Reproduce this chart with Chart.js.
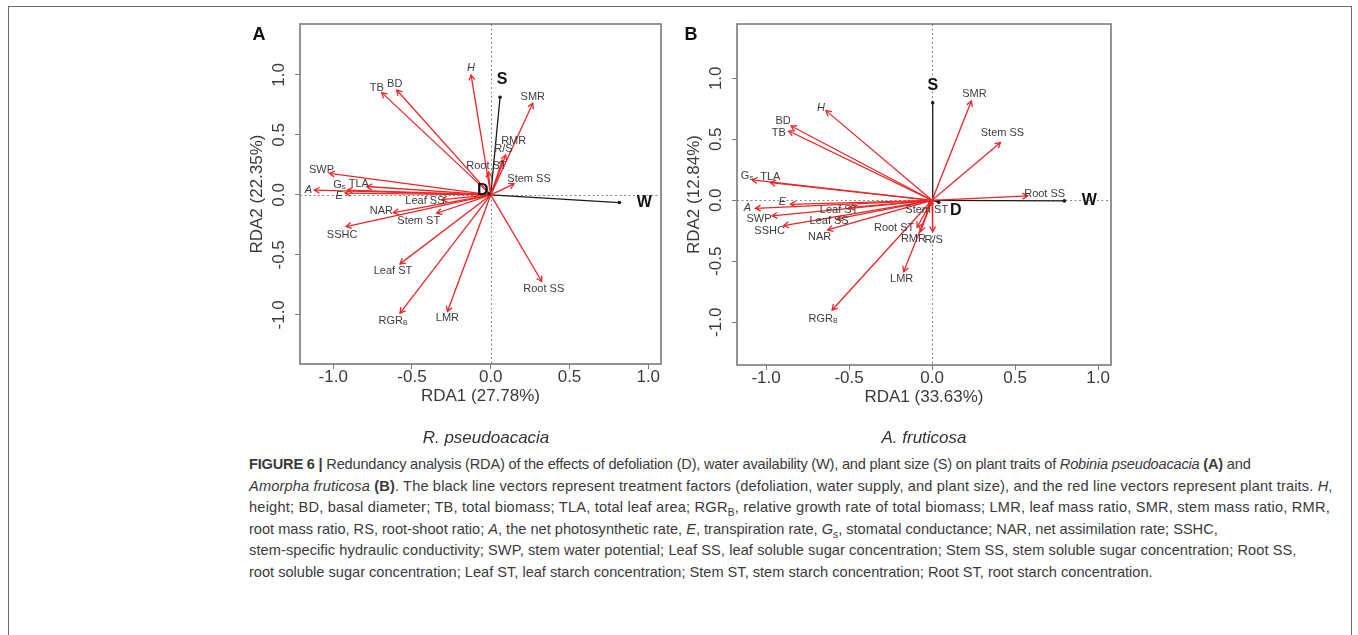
<!DOCTYPE html>
<html><head><meta charset="utf-8">
<script src="https://cdn.jsdelivr.net/npm/chart.js@4.4.1/dist/chart.umd.min.js"></script>
<style>
html,body{margin:0;padding:0;background:#fff;width:1358px;height:635px;overflow:hidden;font-family:"Liberation Sans",Arial,sans-serif;}
#frame{position:absolute;left:8px;top:6px;width:1344px;height:640px;border:1px solid #6a6a6a;box-sizing:border-box;}
canvas{position:absolute;}
.panel{position:absolute;font-weight:bold;font-size:18px;color:#111;line-height:1;transform:translate(-50%,-50%);}
.sp{position:absolute;font-style:italic;font-size:17px;color:#333;line-height:1;transform:translate(-50%,-50%);white-space:nowrap;}
#caption{position:absolute;left:249px;top:454px;font-size:14.6px;line-height:21.6px;color:#3a3a3a;white-space:nowrap;}
#caption sub{font-size:70%;line-height:0;}
</style></head>
<body>
<div id="frame"></div>
<canvas id="cA" width="440" height="445" style="left:240px;top:0px"></canvas>
<canvas id="cB" width="450" height="445" style="left:677px;top:0px"></canvas>
<div class="panel" style="left:259px;top:34px">A</div>
<div class="panel" style="left:691px;top:34px">B</div>
<div class="sp" style="left:486px;top:437px">R. pseudoacacia</div>
<div class="sp" style="left:924px;top:437px">A. fruticosa</div>
<div id="caption">
<div style="letter-spacing:-0.2px"><b>FIGURE 6 |</b> Redundancy analysis (RDA) of the effects of defoliation (D), water availability (W), and plant size (S) on plant traits of <i>Robinia pseudoacacia</i> <b>(A)</b> and</div>
<div style="letter-spacing:0.15px"><i>Amorpha fruticosa</i> <b>(B)</b>. The black line vectors represent treatment factors (defoliation, water supply, and plant size), and the red line vectors represent plant traits. <i>H</i>,</div>
<div style="letter-spacing:0.2px">height; BD, basal diameter; TB, total biomass; TLA, total leaf area; RGR<sub>B</sub>, relative growth rate of total biomass; LMR, leaf mass ratio, SMR, stem mass ratio, RMR,</div>
<div>root mass ratio, RS, root-shoot ratio; <i>A</i>, the net photosynthetic rate, <i>E</i>, transpiration rate, <i>G</i><sub>s</sub>, stomatal conductance; NAR, net assimilation rate; SSHC,</div>
<div style="letter-spacing:0.08px">stem-specific hydraulic conductivity; SWP, stem water potential; Leaf SS, leaf soluble sugar concentration; Stem SS, stem soluble sugar concentration; Root SS,</div>
<div>root soluble sugar concentration; Leaf ST, leaf starch concentration; Stem ST, stem starch concentration; Root ST, root starch concentration.</div>
</div>
<script>
// ---------- DATA ----------
const tickValues = [-1.0, -0.5, 0.0, 0.5, 1.0];
const tickLabels = ['-1.0', '-0.5', '0.0', '0.5', '1.0'];

// Panel A: Robinia pseudoacacia
const traitsA = ['H','TB','BD','SMR','RMR','R/S','Root ST','Stem SS','SWP','TLA','Gs','A','E','Leaf SS','NAR','Stem ST','SSHC','Leaf ST','RGRB','LMR','Root SS'];
const rda1A = [-0.125,-0.692,-0.597,0.267,0.095,0.074,-0.015,0.148,-1.024,-0.787,-0.910,-1.120,-0.925,-0.310,-0.618,-0.343,-0.918,-0.576,-0.576,-0.275,0.324];
const rda2A = [1.000,0.853,0.875,0.764,0.333,0.290,0.190,0.092,0.180,0.070,0.040,0.040,0.015,-0.040,-0.147,-0.153,-0.264,-0.575,-0.986,-0.972,-0.722];
const factorsA = ['W','S','D'];
const factorRda1A = [0.817, 0.059, -0.012];
const factorRda2A = [-0.064, 0.814, 0.010];
const xTitleA = 'RDA1 (27.78%)';
const yTitleA = 'RDA2 (22.35%)';

// Panel B: Amorpha fruticosa
const traitsB = ['H','BD','TB','SMR','Stem SS','Gs','TLA','Root SS','E','A','Leaf ST','Stem ST','SWP','Leaf SS','SSHC','NAR','Root ST','RMR','R/S','LMR','RGRB'];
const rda1B = [-0.639,-0.849,-0.863,0.237,0.412,-1.084,-0.974,0.576,-0.853,-1.064,-0.500,-0.020,-0.964,-0.572,-0.894,-0.629,-0.090,-0.070,0.004,-0.171,-0.602];
const rda2B = [0.735,0.609,0.568,0.814,0.473,0.167,0.145,0.036,-0.033,-0.066,-0.060,-0.050,-0.128,-0.153,-0.208,-0.243,-0.221,-0.257,-0.257,-0.585,-0.899];
const factorsB = ['W','S','D'];
const factorRda1B = [0.797, 0.004, 0.040];
const factorRda2B = [-0.005, 0.800, -0.016];
const xTitleB = 'RDA1 (33.63%)';
const yTitleB = 'RDA2 (12.84%)';

// ---------- LAYOUT (label pixel offsets from arrow tips) ----------
const labelOffA = {
  'H':[0,-7],'TB':[-5,-5],'BD':[-2,-6],'SMR':[0,-6],'RMR':[8,-14],'R/S':[1,-11],'Root ST':[-2,-6],
  'Stem SS':[15,-5],'SWP':[-8,-3],'TLA':[-8,-3],'Gs':[-8,-5],'A':[-6,0],'E':[-6,3],'Leaf SS':[-17,1],
  'NAR':[-12,-2],'Stem ST':[-18,8],'SSHC':[-4,8],'Leaf ST':[-7,7],'RGRB':[-7,8],'LMR':[0,6],'Root SS':[2,7],
  'W':[25,0],'S':[2,-18],'D':[-6,-3]
};
const labelOffB = {
  'H':[-5,-3],'BD':[-8,-5],'TB':[-10,2],'SMR':[3,-7],'Stem SS':[2,-10],'Gs':[-5,-4],'TLA':[0,-6],
  'Root SS':[17,-2],'E':[-8,-2],'A':[-8,0],'Leaf ST':[-10,2],'Stem ST':[-2,4],'SWP':[-13,3],'Leaf SS':[-8,2],
  'SSHC':[-14,5],'NAR':[-8,7],'Root ST':[-23,1],'RMR':[-7,7],'R/S':[1,8],'LMR':[-2,7],'RGRB':[-9,9],
  'W':[25,0],'S':[0,-17],'D':[17,8]
};

const FAMILY = '"Liberation Sans", Arial, Helvetica, sans-serif';
const RED = 'rgb(236,38,38)';
const BLACK = '#1a1a1a';
const TXT = '#3a3a3a';
Chart.defaults.font.family = FAMILY;

function drawLabel(ctx, name, x, y, isFactor) {
  ctx.save();
  ctx.textBaseline = 'middle';
  ctx.fillStyle = isFactor ? '#111' : '#3c3c3c';
  let parts;
  const base = '11px ' + FAMILY;
  if (isFactor) parts = [{t:name, f:'bold 16px ' + FAMILY, dy:0}];
  else if (name === 'H' || name === 'A' || name === 'E') parts = [{t:name, f:'italic ' + base, dy:0}];
  else if (name === 'Gs') parts = [{t:'G', f:base, dy:0},{t:'s', f:'8px ' + FAMILY, dy:2}];
  else if (name === 'RGRB') parts = [{t:'RGR', f:base, dy:0},{t:'B', f:'7px ' + FAMILY, dy:2}];
  else parts = [{t:name, f:base, dy:0}];
  let w = 0;
  parts.forEach(p => { ctx.font = p.f; p.w = ctx.measureText(p.t).width; w += p.w; });
  let cx = x - w / 2;
  parts.forEach(p => { ctx.font = p.f; ctx.textAlign = 'left'; ctx.fillText(p.t, cx, y + p.dy); cx += p.w; });
  ctx.restore();
}

const biplotPlugin = {
  id: 'biplot',
  beforeDatasetsDraw(chart) {
    const {ctx, chartArea: a, scales: {x, y}} = chart;
    ctx.save();
    ctx.strokeStyle = '#8a8a8a';
    ctx.lineWidth = 1;
    ctx.setLineDash([2, 2.5]);
    const x0 = Math.round(x.getPixelForValue(0)) + 0.5;
    const y0 = Math.round(y.getPixelForValue(0)) + 0.5;
    ctx.beginPath();
    ctx.moveTo(x0, a.top); ctx.lineTo(x0, a.bottom);
    ctx.moveTo(a.left, y0); ctx.lineTo(a.right, y0);
    ctx.stroke();
    ctx.restore();
  },
  afterDatasetsDraw(chart) {
    const {ctx} = chart;
    const offs = chart.options.plugins.biplot.offsets;
    chart.data.datasets.forEach((ds, i) => {
      const meta = chart.getDatasetMeta(i);
      const p0 = meta.data[0], p1 = meta.data[1];
      const ang = Math.atan2(p1.y - p0.y, p1.x - p0.x);
      ctx.save();
      ctx.strokeStyle = ds.borderColor;
      ctx.fillStyle = ds.borderColor;
      ctx.lineWidth = ds.borderWidth;
      if (ds.isFactor) {
        ctx.beginPath();
        ctx.arc(p1.x, p1.y, 1.8, 0, Math.PI * 2);
        ctx.fill();
      } else {
        const L = 6, sp = Math.PI / 6;
        ctx.beginPath();
        ctx.moveTo(p1.x - L * Math.cos(ang - sp), p1.y - L * Math.sin(ang - sp));
        ctx.lineTo(p1.x, p1.y);
        ctx.lineTo(p1.x - L * Math.cos(ang + sp), p1.y - L * Math.sin(ang + sp));
        ctx.stroke();
      }
      ctx.restore();
    });
    chart.data.datasets.forEach((ds, i) => {
      const meta = chart.getDatasetMeta(i);
      const p1 = meta.data[1];
      const o = offs[ds.label] || [0, -8];
      drawLabel(ctx, ds.label, p1.x + o[0], p1.y + o[1], ds.isFactor);
    });
  },
  afterDraw(chart) {
    const {ctx, chartArea: a, scales: {y}} = chart;
    ctx.save();
    ctx.strokeStyle = '#7a7a7a';
    ctx.lineWidth = 1.6;
    ctx.strokeRect(a.left, a.top, a.right - a.left, a.bottom - a.top);
    // rotated y tick labels (R style)
    ctx.fillStyle = TXT;
    ctx.font = '17px ' + FAMILY;
    ctx.textAlign = 'center';
    ctx.textBaseline = 'middle';
    y.ticks.forEach((t, k) => {
      const py = y.getPixelForValue(t.value);
      ctx.save();
      ctx.translate(a.left - 21, py);
      ctx.rotate(-Math.PI / 2);
      ctx.fillText(tickLabels[tickValues.indexOf(t.value)], 0, 0);
      ctx.restore();
    });
    ctx.restore();
  }
};

function makePanel(id, traits, xs, ys, fNames, fx, fy, offs, xTitle, yTitle, rng, pad) {
  const datasets = [];
  traits.forEach((n, i) => datasets.push({
    label: n, data: [{x:0, y:0}, {x:xs[i], y:ys[i]}], showLine: true,
    borderColor: RED, borderWidth: 1.3, pointRadius: 0, isFactor: false
  }));
  fNames.forEach((n, i) => datasets.push({
    label: n, data: [{x:0, y:0}, {x:fx[i], y:fy[i]}], showLine: true,
    borderColor: BLACK, borderWidth: 1.3, pointRadius: 0, isFactor: true
  }));
  const setTicks = s => { s.ticks = tickValues.map(v => ({value: v})); };
  new Chart(document.getElementById(id), {
    type: 'scatter',
    data: {datasets},
    options: {
      responsive: false, animation: false, devicePixelRatio: 1,
      layout: {padding: {left: 0, right: pad.right, top: 24, bottom: pad.bottom}},
      plugins: {legend: {display: false}, tooltip: {enabled: false}, biplot: {offsets: offs}},
      scales: {
        x: {
          type: 'linear', min: rng[0], max: rng[1],
          afterBuildTicks: setTicks,
          afterFit: s => { s.height = 60; },
          ticks: {callback: v => tickLabels[tickValues.indexOf(v)], color: TXT, font: {size: 17}, padding: -2, maxRotation: 0, autoSkip: false},
          grid: {drawOnChartArea: false, drawTicks: true, tickLength: 5, color: '#7a7a7a', lineWidth: 1},
          border: {display: false},
          title: {display: true, text: xTitle, color: TXT, font: {size: 17}, padding: {top: 0, bottom: pad.xtitle}}
        },
        y: {
          type: 'linear', min: rng[2], max: rng[3],
          afterBuildTicks: setTicks,
          afterFit: s => { s.width = pad.yw; },
          ticks: {display: false},
          grid: {drawOnChartArea: false, drawTicks: true, tickLength: 5, color: '#7a7a7a', lineWidth: 1},
          border: {display: false},
          title: {display: true, text: yTitle, color: TXT, font: {size: 17}, padding: {top: 7, bottom: 0}}
        }
      }
    },
    plugins: [biplotPlugin]
  });
}

makePanel('cA', traitsA, rda1A, rda2A, factorsA, factorRda1A, factorRda2A, labelOffA, xTitleA, yTitleA,
  [-1.211, 1.081, -1.41, 1.425], {right: 19, bottom: 21, xtitle: 17, yw: 60});
makePanel('cB', traitsB, rda1B, rda2B, factorsB, factorRda1B, factorRda2B, labelOffB, xTitleB, yTitleB,
  [-1.175, 1.078, -1.35, 1.445], {right: 16, bottom: 20, xtitle: 17, yw: 60});
</script>
</body></html>
